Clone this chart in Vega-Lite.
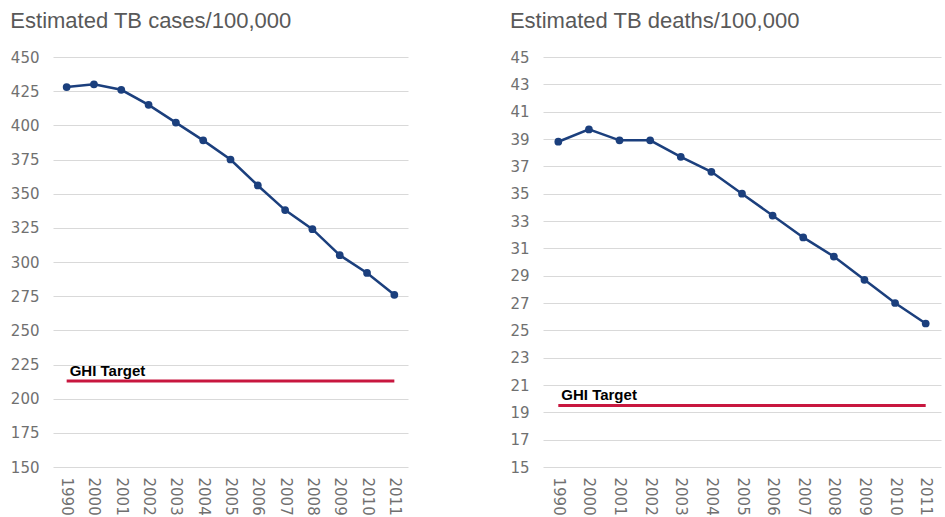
{
  "$schema": "https://vega.github.io/schema/vega-lite/v6.json",
  "background": "white",
  "padding": {"left": 10, "top": 10, "right": 5, "bottom": 0},
  "spacing": 101,
  "datasets": {
    "cases": [
      {"year": 1990, "value": 428}, {"year": 2000, "value": 430}, {"year": 2001, "value": 426},
      {"year": 2002, "value": 415}, {"year": 2003, "value": 402}, {"year": 2004, "value": 389},
      {"year": 2005, "value": 375}, {"year": 2006, "value": 356}, {"year": 2007, "value": 338},
      {"year": 2008, "value": 324}, {"year": 2009, "value": 305}, {"year": 2010, "value": 292},
      {"year": 2011, "value": 276}
    ],
    "deaths": [
      {"year": 1990, "value": 38.8}, {"year": 2000, "value": 39.7}, {"year": 2001, "value": 38.9},
      {"year": 2002, "value": 38.9}, {"year": 2003, "value": 37.7}, {"year": 2004, "value": 36.6},
      {"year": 2005, "value": 35.0}, {"year": 2006, "value": 33.4}, {"year": 2007, "value": 31.8},
      {"year": 2008, "value": 30.4}, {"year": 2009, "value": 28.7}, {"year": 2010, "value": 27.0},
      {"year": 2011, "value": 25.5}
    ],
    "caseTarget": [
      {"year": 1990, "value": 213, "label": "GHI Target"},
      {"year": 2011, "value": 213, "label": ""}
    ],
    "deathTarget": [
      {"year": 1990, "value": 19.5, "label": "GHI Target"},
      {"year": 2011, "value": 19.5, "label": ""}
    ]
  },
  "config": {
    "view": {"stroke": null},
    "font": "Liberation Sans",
    "title": {"anchor": "start", "frame": "bounds", "font": "Liberation Sans", "fontSize": 22, "fontWeight": "normal", "color": "#595959", "offset": 17},
    "axis": {
      "labelFont": "DejaVu Sans", "labelFontSize": 15, "labelColor": "#707070",
      "domain": false, "ticks": false, "title": null
    },
    "axisY": {"gridColor": "#d9d9d9", "gridWidth": 1, "labelPadding": 14},
    "axisX": {"grid": false, "labelAngle": 90, "labelAlign": "left", "labelBaseline": "middle", "labelPadding": 10}
  },
  "hconcat": [
    {
      "width": 355,
      "height": 410,
      "title": "Estimated TB cases/100,000",
      "encoding": {
        "x": {"field": "year", "type": "ordinal", "scale": {"type": "point", "padding": 0.5}, "title": null},
        "y": {"field": "value", "type": "quantitative", "scale": {"domain": [150, 450], "nice": false, "zero": false},
              "axis": {"values": [150, 175, 200, 225, 250, 275, 300, 325, 350, 375, 400, 425, 450]}, "title": null}
      },
      "layer": [
        {"data": {"name": "caseTarget"}, "mark": {"type": "line", "color": "#c8173f", "strokeWidth": 3}},
        {"data": {"name": "caseTarget"}, "mark": {"type": "text", "align": "left", "baseline": "alphabetic", "dx": 3, "dy": -5, "font": "Liberation Sans", "fontWeight": "bold", "fontSize": 15, "color": "#000000"},
         "encoding": {"text": {"field": "label"}}},
        {"data": {"name": "cases"}, "mark": {"type": "line", "color": "#1b3f7d", "strokeWidth": 2.5, "point": {"filled": true, "size": 60, "color": "#1b3f7d"}}}
      ]
    },
    {
      "width": 398,
      "height": 410,
      "title": "Estimated TB deaths/100,000",
      "encoding": {
        "x": {"field": "year", "type": "ordinal", "scale": {"type": "point", "padding": 0.5}, "title": null},
        "y": {"field": "value", "type": "quantitative", "scale": {"domain": [15, 45], "nice": false, "zero": false},
              "axis": {"values": [15, 17, 19, 21, 23, 25, 27, 29, 31, 33, 35, 37, 39, 41, 43, 45]}, "title": null}
      },
      "layer": [
        {"data": {"name": "deathTarget"}, "mark": {"type": "line", "color": "#c8173f", "strokeWidth": 3}},
        {"data": {"name": "deathTarget"}, "mark": {"type": "text", "align": "left", "baseline": "alphabetic", "dx": 3, "dy": -6, "font": "Liberation Sans", "fontWeight": "bold", "fontSize": 15, "color": "#000000"},
         "encoding": {"text": {"field": "label"}}},
        {"data": {"name": "deaths"}, "mark": {"type": "line", "color": "#1b3f7d", "strokeWidth": 2.5, "point": {"filled": true, "size": 60, "color": "#1b3f7d"}}}
      ]
    }
  ]
}
